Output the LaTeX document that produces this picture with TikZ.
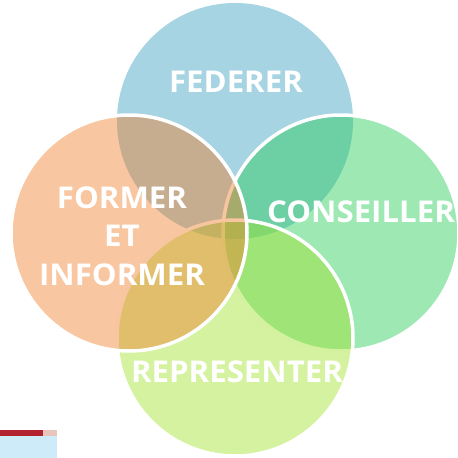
\documentclass[tikz,border=0pt]{standalone}
\usepackage{fontspec}
\setmainfont{Open Sans}[FakeStretch=1.04]
\usepackage{tikz}

\definecolor{fedblue}{RGB}{57,159,190}
\definecolor{formorange}{RGB}{239,128,44}
\definecolor{consgreen}{RGB}{39,203,89}
\definecolor{repgreen}{RGB}{159,226,44}
\definecolor{barred}{RGB}{178,34,48}
\definecolor{barpink}{RGB}{232,196,188}
\definecolor{barblue}{RGB}{205,235,248}

\tikzset{
  bubble/.style={circle, minimum size=236pt, inner sep=0pt, fill opacity=0.45, draw opacity=1},
  outlined/.style={draw=white, line width=3.5pt},
  label/.style={text=white, font=\fontsize{30}{38.5}\selectfont\bfseries, align=center, inner sep=0pt}
}

\begin{document}
\begin{tikzpicture}[x=1pt, y=-1pt]
\useasboundingbox (0,0) rectangle (458,458);
% circles, back to front
\node[bubble, fill=fedblue] (fed) at (235,121) {};
\node[bubble, outlined, fill=consgreen] (cons) at (341,233) {};
\node[bubble, outlined, fill=repgreen] (rep) at (235,338) {};
\node[bubble, outlined, fill=formorange] (form) at (129,233) {};
% texts
\node[label] (tfed) at (236,82) {FEDERER};
\node[label] (tform) at (122,236) {FORMER\\ET\\INFORMER};
\node[label] (tcons) at (361,212) {CONSEILLER};
\node[label] (trep) at (237,372) {REPRESENTER};
% small bar bottom left
\fill[barred] (0,430) rectangle (43,436);
\fill[barpink] (43,430) rectangle (57,436);
\fill[barblue] (0,436) rectangle (57,458);
\end{tikzpicture}
\end{document}
